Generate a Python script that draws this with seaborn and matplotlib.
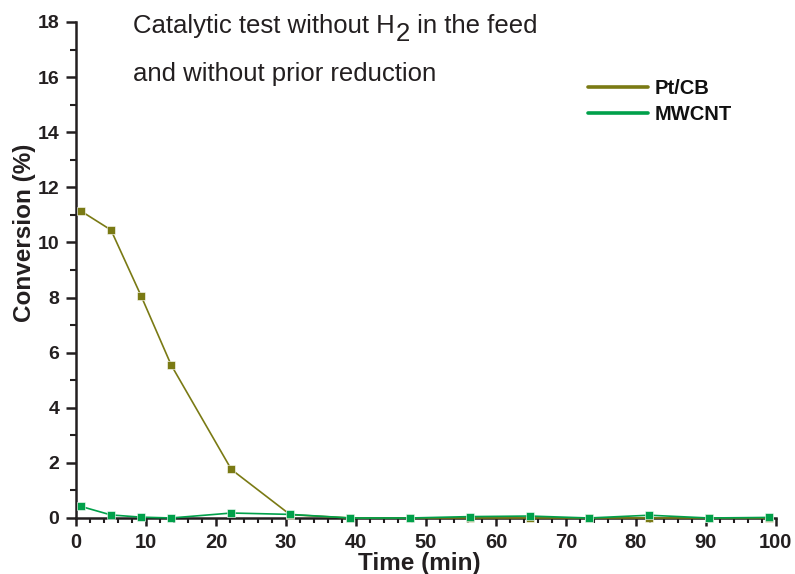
import matplotlib
matplotlib.use("Agg")
import matplotlib.pyplot as plt
import seaborn as sns
import pandas as pd
from matplotlib.lines import Line2D
from matplotlib.ticker import MultipleLocator

sns.set_theme(style="ticks")
plt.rcParams['font.family'] = ['Liberation Sans', 'DejaVu Sans']

time_min = [0.7, 5.0, 9.3, 13.6, 22.2, 30.6, 39.2, 47.7, 56.3, 64.8, 73.3, 81.9, 90.4, 99.0]
pt_cb = [11.14, 10.45, 8.06, 5.55, 1.76, 0.12, 0.0, 0.0, 0.0, 0.0, 0.0, 0.0, 0.0, 0.0]
mwcnt = [0.42, 0.11, 0.03, 0.0, 0.18, 0.13, 0.0, 0.0, 0.05, 0.07, 0.0, 0.10, 0.0, 0.02]
series_names = ["Pt/CB", "MWCNT"]
colors = ["#7a7a14", "#00a04a"]
dark = "#231f20"

df = pd.DataFrame({"Time": time_min * 2,
                   "Conversion": pt_cb + mwcnt,
                   "Sample": [series_names[0]] * len(time_min) + [series_names[1]] * len(time_min)})

fig = plt.figure(figsize=(7.95, 5.74), dpi=100)
ax = fig.add_axes([0.0956, 0.0976, 0.8804, 0.8641])

for name, col in zip(series_names, colors):
    sub = df[df["Sample"] == name]
    sns.lineplot(data=sub, x="Time", y="Conversion", ax=ax, color=col, marker="s",
                 markersize=5.5, markeredgecolor="white", markeredgewidth=0.4,
                 linewidth=1.2, legend=False, clip_on=False, zorder=3)

ax.set_xlim(0, 100)
ax.set_ylim(0, 18)
ax.xaxis.set_major_locator(MultipleLocator(10))
ax.xaxis.set_minor_locator(MultipleLocator(2))
ax.yaxis.set_major_locator(MultipleLocator(2))
ax.yaxis.set_minor_locator(MultipleLocator(1))
sns.despine(ax=ax)
for s in ["left", "bottom"]:
    ax.spines[s].set_linewidth(1.8)
    ax.spines[s].set_color(dark)
ax.tick_params(axis="x", which="major", direction="out", length=5.5, width=1.8, color=dark,
               labelsize=14.5, pad=5)
ax.tick_params(axis="y", which="major", direction="out", length=7, width=1.8, color=dark,
               labelsize=14, pad=5)
ax.tick_params(axis="x", which="minor", direction="out", length=3.5, width=1.5, color=dark)
ax.tick_params(axis="y", which="minor", direction="out", length=4, width=1.5, color=dark)
for lab in ax.get_xticklabels() + ax.get_yticklabels():
    lab.set_fontweight("bold")
    lab.set_color(dark)

ax.set_xlabel("Time (min)", fontsize=17.5, fontweight="bold", color=dark)
ax.set_ylabel("Conversion (%)", fontsize=17.5, fontweight="bold", color=dark)
ax.xaxis.set_label_coords(0.491, -0.069)
ax.yaxis.set_label_coords(-0.057, 0.575)

tsize = 18.5
t1 = fig.text(133 / 795, 1 - 33 / 574, "Catalytic test without H",
              fontsize=tsize, color=dark, va="baseline", ha="left")
t2 = fig.add_artist(plt.Annotation("2", xy=(1, 0), xycoords=t1, xytext=(0.5, -5.5),
                                   textcoords="offset points", fontsize=tsize, color=dark,
                                   va="bottom", ha="left"))
t3 = fig.add_artist(plt.Annotation(" in the feed", xy=(1, 0), xycoords=(t2, t1),
                                   xytext=(0, 0), textcoords="offset points",
                                   fontsize=tsize, color=dark, va="bottom", ha="left"))
fig.text(133 / 795, 1 - 81 / 574, "and without prior reduction",
         fontsize=tsize, color=dark, va="baseline", ha="left")

handles = [Line2D([], [], color=c, linewidth=2.6, solid_capstyle="round") for c in colors]
leg = fig.legend(handles, series_names, loc="upper left",
                 bbox_to_anchor=(588 / 795, 1 - 79 / 574), frameon=False,
                 handlelength=3.0, handletextpad=0.3, borderpad=0, borderaxespad=0,
                 labelspacing=0.35, prop={"weight": "bold", "size": 14.5})
for t in leg.get_texts():
    t.set_color("#111111")

fig.savefig("out.png", dpi=100)
